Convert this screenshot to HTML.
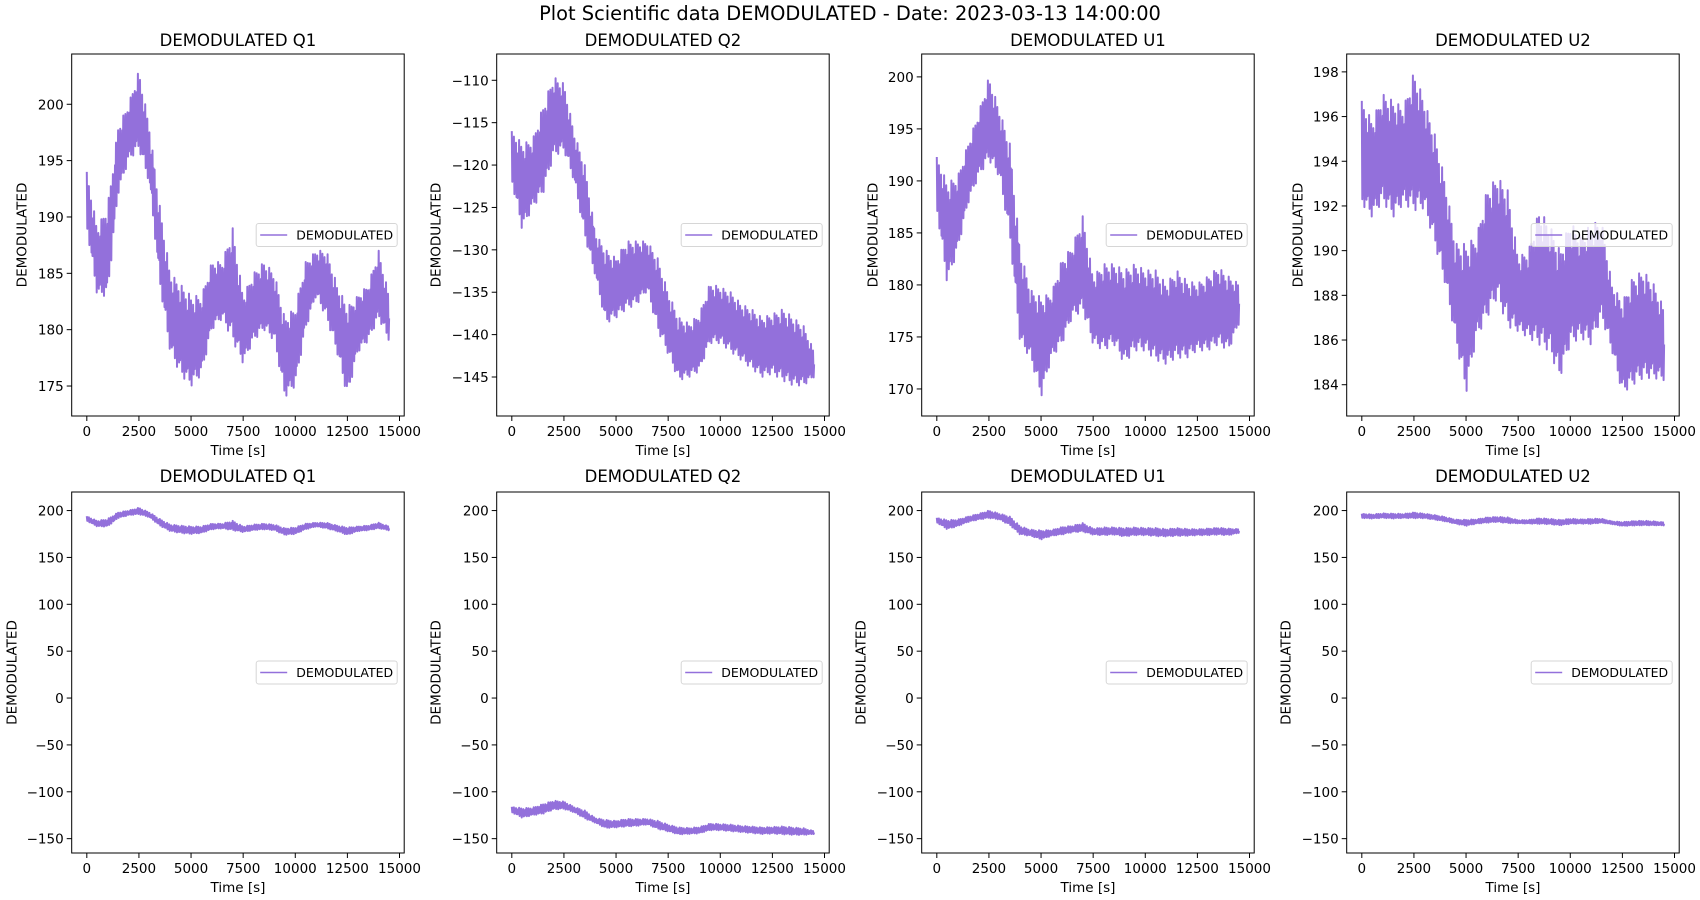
<!DOCTYPE html>
<html><head><meta charset="utf-8">
<style>
html,body{margin:0;padding:0;background:#fff;}
svg{display:block;font-family:"DejaVu Sans","Liberation Sans",sans-serif;}
</style></head>
<body>
<svg id="fig" width="1700" height="900" viewBox="0 0 1700 900" xmlns="http://www.w3.org/2000/svg">
<rect width="1700" height="900" fill="#fff"/>
<text x="850" y="20" font-size="19.4" text-anchor="middle">Plot Scientific data DEMODULATED - Date: 2023-03-13 14:00:00</text>
</svg>
<script>
// ---- data (envelope low/high per 500 s bin, t = 0..14500) ----
const times = [0,500,1000,1500,2000,2500,3000,3500,4000,4500,5000,5500,6000,6500,7000,7500,8000,8500,9000,9500,10000,10500,11000,11500,12000,12500,13000,13500,14000,14500];
const q1Low  = [189,183,183,192,195,196,193,184,178,176,175,176,180,181,179,177,179,180,179,174,175,180,183,181,178,174,178,179,181,179];
const q1High = [194,189,191,198,200,203,198,191,185,184,183,183,186,186,189,183,185,186,185,181,182,186,187,187,184,182,183,184,187,183];
const q2Low  = [-122,-127.7,-125,-123.4,-119,-118.3,-122,-128.5,-133,-138.7,-138,-137,-136.4,-134.8,-139.5,-142.3,-145.4,-145,-144.3,-141,-141,-142,-143,-144,-145,-144.6,-145.4,-146,-146,-145];
const q2High = [-116,-117.5,-117,-113,-109.6,-110.4,-116.3,-120,-128,-130,-131,-129,-129,-129,-131,-135,-138,-138.7,-137.6,-134,-134.4,-135,-136.4,-137,-138,-137.6,-137,-138,-139,-142];
const u1Low  = [187.2,180.1,183.3,187.8,190.4,192,190.4,184.6,174.3,173,169.2,173,174.3,176.9,177.5,174.3,173.7,174.3,172.4,173.7,173.7,172.8,172.4,173,173,173.7,173.7,174.3,173.7,176.3];
const u1High = [192.3,189.8,190.4,193.6,196.5,200,196.8,193.6,183.3,179.5,178.8,179.2,182.4,183.7,186.6,180.8,182,182,181.4,182,181.4,181.4,180.1,181.4,180.4,180.1,180.8,181.7,180.8,180.1];
const u2Low  = [192.1,191.5,192.2,191.5,192.1,191.8,191.9,190.3,188.5,186,183.6,186.1,187,187.9,186.6,186.4,186.1,185.8,185.5,184.3,185.8,186.1,185.8,187,185.5,183.6,184,184.3,184.3,184.2];
const u2High = [196.7,195.8,197,196.7,196.4,198,196.7,195.2,193.1,190.3,190.3,190.6,192.7,193.3,192.7,189.7,190,191.8,191.2,190,191.3,190.6,191.2,191.3,188.5,187.7,188.8,189.1,188.5,187.4];
const panelTitles = ["DEMODULATED Q1","DEMODULATED Q2","DEMODULATED U1","DEMODULATED U2"];
const xTicks = [0,2500,5000,7500,10000,12500,15000];
const q1Ticks = [175,180,185,190,195,200];
const q2Ticks = [-145,-140,-135,-130,-125,-120,-115,-110];
const u1Ticks = [170,175,180,185,190,195,200];
const u2Ticks = [184,186,188,190,192,194,196,198];
const bottomTicks = [-150,-100,-50,0,50,100,150,200];

const NS="http://www.w3.org/2000/svg";
const svg=document.getElementById('fig');
function el(tag,attrs,parent){const e=document.createElementNS(NS,tag);for(const k in attrs)e.setAttribute(k,attrs[k]);(parent||svg).appendChild(e);return e;}
function fmt(v){return v<0?'\u2212'+Math.abs(v):String(v);}
const zig=[1,0.05,0.85,0.2,0.95,0,0.7,0.3,0.9,0.1,0.6,0.15,0.8,0.25];

const series=[[q1Low,q1High,q1Ticks,[172.34,204.46]],[q2Low,q2High,q2Ticks,[-149.6,-106.9]],[u1Low,u1High,u1Ticks,[167.4,202.2]],[u2Low,u2High,u2Ticks,[182.6,198.8]]];
const colLeft=[71.7,496.7,921.7,1346.7], W=332.5;
const ylabOff=[[-45,-56,-44,-44],[-55,-56,-56,-56]];
const rows=[{top:54,bot:416,titleY:46,tickY:436,xlabY:455},{top:492,bot:853,titleY:482,tickY:873,xlabY:892}];

for(let c=0;c<4;c++){
 const [lo,hi,ticks,yr]=series[c];
 for(let r=0;r<2;r++){
  const R=rows[r];const L=colLeft[c],Rt=L+W;
  const y0=r===0?yr[0]:-165.3, y1=r===0?yr[1]:219.8;
  const tk=r===0?ticks:bottomTicks;
  const xs=v=>L+(v+725)/(15950)*W;
  const ys=v=>R.bot-(v-y0)/(y1-y0)*(R.bot-R.top);
  const g=el('g',{});
  
  
  let pts=[];let k=0;
  const N=20;
  for(let i=0;i<times.length-1;i++){
   for(let j=0;j<N;j++){
    const f=j/N;const t=times[i]+f*(times[i+1]-times[i]);
    const l=lo[i]+(lo[i+1]-lo[i])*f, h=hi[i]+(hi[i+1]-hi[i])*f;
    const z=zig[(k++)%zig.length];
    pts.push(xs(t).toFixed(1)+','+ys(l+(h-l)*z).toFixed(1));
   }
  }
  const n=times.length-1;pts.push(xs(times[n]).toFixed(1)+','+ys((lo[n]+hi[n])/2).toFixed(1));
  const pl=el('polyline',{points:pts.join(' '),fill:'none',stroke:'#9370DB','stroke-width':'2','stroke-linejoin':'round'},g);
  
  
  el('rect',{x:L,y:R.top,width:W,height:R.bot-R.top,fill:'none',stroke:'#000','stroke-width':'1'},g);
  xTicks.forEach(v=>{const x=xs(v);el('line',{x1:x,x2:x,y1:R.bot,y2:R.bot+5,stroke:'#000'},g);
   const t=el('text',{x:x,y:R.tickY,'font-size':'13.5','text-anchor':'middle'},g);t.textContent=v;
   });
  tk.forEach(v=>{const y=ys(v);el('line',{x1:L-5,x2:L,y1:y,y2:y,stroke:'#000'},g);
   const t=el('text',{x:L-8,y:y+5,'font-size':'13.5','text-anchor':'end'},g);t.textContent=fmt(v);
   });
  const tt=el('text',{x:L+W/2,y:R.titleY,'font-size':'16.5','text-anchor':'middle'},g);tt.textContent=panelTitles[c];
  
  const xl=el('text',{x:L+W/2,y:R.xlabY,'font-size':'13.5','text-anchor':'middle'},g);xl.textContent='Time [s]';
  
  const yx=L+ylabOff[r][c];
  const ym=(R.top+R.bot)/2;
  const yl=el('text',{x:yx,y:ym,'font-size':'13.5','text-anchor':'middle',transform:'rotate(-90 '+yx+' '+ym+')'},g);yl.textContent='DEMODULATED';
  
  const lg=el('g',{},g);
  
  el('rect',{x:Rt-148,y:ym-11.5,width:141,height:23,rx:2.5,fill:'rgba(255,255,255,0.8)',stroke:'#d6d6d6'},lg);
  el('line',{x1:Rt-144,x2:Rt-117,y1:ym,y2:ym,stroke:'#9370DB','stroke-width':'1.6'},lg);
  const lt=el('text',{x:Rt-108,y:ym+4.5,'font-size':'12.5'},lg);lt.textContent='DEMODULATED';
  
 }
}
</script>
</body></html>
